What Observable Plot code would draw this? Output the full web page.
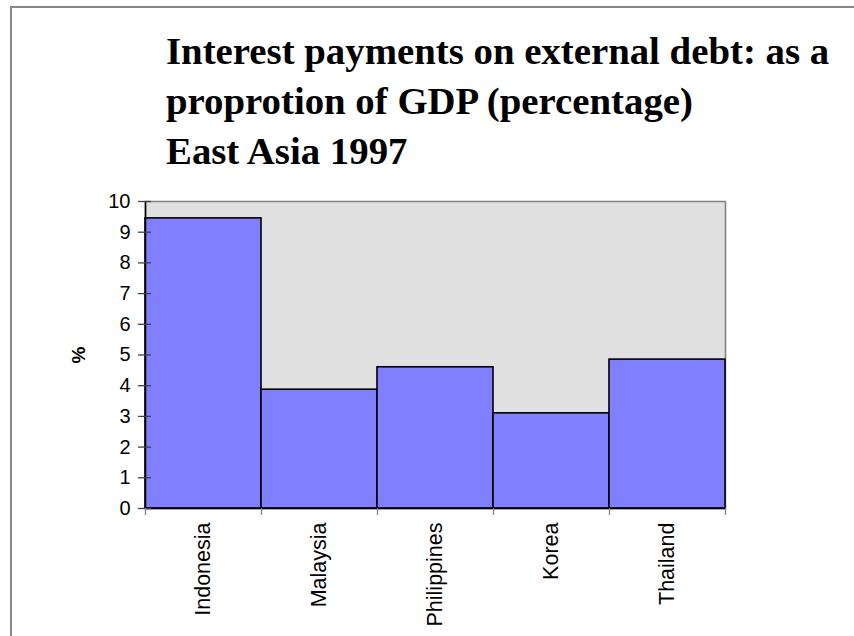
<!DOCTYPE html>
<html>
<head>
<meta charset="utf-8">
<script src="https://cdn.jsdelivr.net/npm/d3@7"></script>
<script src="https://cdn.jsdelivr.net/npm/@observablehq/plot@0.6"></script>
<style>
  html, body { margin: 0; padding: 0; background: #fff; }
  body { width: 854px; height: 636px; overflow: hidden; position: relative; }
  #border {
    position: absolute; left: 10px; top: 6px; width: 1000px; height: 1000px;
    border-left: 2px solid #888; border-top: 2px solid #888;
  }
  #title {
    position: absolute; left: 166px; top: 26px;
    font-family: "Liberation Serif", "Times New Roman", serif;
    font-weight: bold; font-size: 38.8px; line-height: 50px; color: #000;
    white-space: nowrap;
  }
  #chart { position: absolute; left: 0; top: 0; }
</style>
</head>
<body>
<div id="border"></div>
<div id="chart"></div>
<div id="title">Interest payments on external debt: as a<br>proprotion of GDP (percentage)<br>East Asia 1997</div>
<script>
// Interest payments on external debt as % of GDP, East Asia, 1997
const countries = ["Indonesia", "Malaysia", "Philippines", "Korea", "Thailand"];
const interestPct = [9.45, 3.87, 4.6, 3.1, 4.85];
const yTicks = [0, 1, 2, 3, 4, 5, 6, 7, 8, 9, 10];

// each country occupies one unit slot [i, i+1] on a linear x scale
const rows = countries.map((name, i) => ({name, i, value: interestPct[i]}));
const slotEdges = d3.range(countries.length + 1);

const chart = Plot.plot({
  width: 854,
  height: 636,
  marginLeft: 145,
  marginRight: 129,
  marginTop: 201,
  marginBottom: 128,
  style: {
    fontFamily: "'Liberation Sans', Arial, sans-serif",
    fontSize: "20px",
    background: "transparent",
    color: "#000",
    overflow: "visible"
  },
  x: {domain: [0, countries.length], axis: null},
  y: {domain: [0, 10], axis: null},
  marks: [
    Plot.frame({fill: "#e0e0e0", stroke: "#808080", strokeWidth: 1.5}),
    Plot.rectY(rows, {
      x1: "i",
      x2: (d) => d.i + 1,
      y1: 0,
      y2: "value",
      fill: "#8080ff",
      stroke: "#000",
      strokeWidth: 1.6
    }),
    Plot.ruleY([0], {stroke: "#000", strokeWidth: 1.6}),
    Plot.ruleX([0], {stroke: "#000", strokeWidth: 1.6}),
    // y ticks cross the axis line
    Plot.axisY({
      ticks: yTicks,
      tickSize: 13,
      dx: 6,
      tickPadding: 8,
      stroke: "#404040",
      strokeWidth: 1.3,
      fontSize: 20,
      label: null
    }),
    // x ticks sit on the slot boundaries
    Plot.axisX({
      ticks: slotEdges,
      tickSize: 7,
      tickFormat: () => "",
      stroke: "#808080",
      strokeWidth: 1.3,
      label: null
    }),
    Plot.text(rows, {
      x: (d) => d.i + 0.5,
      frameAnchor: "bottom",
      text: "name",
      rotate: -90,
      textAnchor: "end",
      lineAnchor: "middle",
      dy: 14,
      fontSize: 21.5
    }),
    Plot.text(["%"], {
      frameAnchor: "left",
      text: (d) => d,
      rotate: -90,
      textAnchor: "middle",
      lineAnchor: "middle",
      dx: -67,
      fontWeight: "bold",
      fontSize: 19
    })
  ]
});

document.getElementById("chart").append(chart);
</script>
</body>
</html>
